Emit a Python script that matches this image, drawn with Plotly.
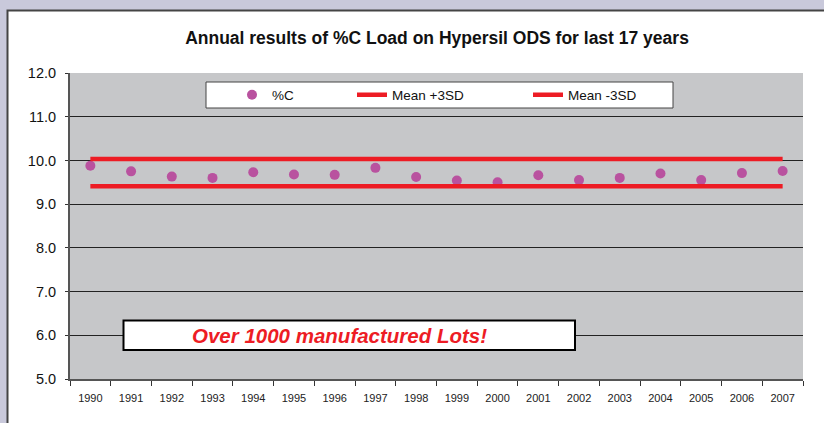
import plotly.graph_objects as go

years = ['1990', '1991', '1992', '1993', '1994', '1995', '1996', '1997', '1998',
         '1999', '2000', '2001', '2002', '2003', '2004', '2005', '2006', '2007']
pct_c = [9.88, 9.75, 9.63, 9.60, 9.73, 9.68, 9.67, 9.83, 9.62,
         9.54, 9.50, 9.66, 9.55, 9.60, 9.70, 9.55, 9.71, 9.76]
mean_plus_3sd = [10.03, 10.03, 10.03, 10.03, 10.03, 10.03, 10.03, 10.03, 10.03,
                 10.03, 10.03, 10.03, 10.03, 10.03, 10.03, 10.03, 10.03, 10.03]
mean_minus_3sd = [9.41, 9.41, 9.41, 9.41, 9.41, 9.41, 9.41, 9.41, 9.41,
                  9.41, 9.41, 9.41, 9.41, 9.41, 9.41, 9.41, 9.41, 9.41]
y_ticks = [5, 6, 7, 8, 9, 10, 11, 12]

W, H = 824, 423
L, R, T, B = 70, 21, 73, 44
PW, PH = W - L - R, H - T - B


def px_x(p):
    return (p - L) / PW


def px_y(p):
    return 1 - (p - T) / PH


FONT = "Arial, Liberation Sans, sans-serif"
RED = "#ed1c24"
PURPLE = "#b9529f"
LAV = "#c9c9db"

fig = go.Figure()
fig.add_trace(go.Scatter(x=years, y=pct_c, mode="markers", name="%C",
                         marker=dict(color=PURPLE, size=10), legend="legend",
                         showlegend=True))
fig.add_trace(go.Scatter(x=years, y=mean_plus_3sd, mode="lines", name="Mean +3SD",
                         line=dict(color=RED, width=4.5), legend="legend2",
                         showlegend=True))
fig.add_trace(go.Scatter(x=years, y=mean_minus_3sd, mode="lines", name="Mean -3SD",
                         line=dict(color=RED, width=4.5), legend="legend3",
                         showlegend=True))

legend_common = dict(orientation="h", bgcolor="rgba(0,0,0,0)", borderwidth=0,
                     font=dict(family=FONT, size=13.5, color="#111"),
                     xanchor="left", yanchor="middle", y=px_y(95))

shapes = [
    dict(type="rect", xref="paper", yref="paper", layer="below",
         x0=px_x(0), x1=px_x(7), y0=px_y(H), y1=px_y(0),
         fillcolor=LAV, line=dict(width=0)),
    dict(type="rect", xref="paper", yref="paper", layer="below",
         x0=px_x(0), x1=px_x(W), y0=px_y(10), y1=px_y(0),
         fillcolor=LAV, line=dict(width=0)),
    dict(type="path", xref="paper", yref="paper", layer="below",
         path="M %f,%f L %f,%f L %f,%f" % (px_x(7.5), px_y(H), px_x(7.5), px_y(10.5),
                                          px_x(W), px_y(10.5)),
         line=dict(color="#444", width=2)),
    # legend box
    dict(type="rect", xref="paper", yref="paper", layer="above",
         x0=px_x(206), x1=px_x(673), y0=px_y(108), y1=px_y(82),
         fillcolor="white", line=dict(color="#444", width=1)),
    # callout box
    dict(type="rect", xref="paper", yref="paper", layer="above",
         x0=px_x(123.5), x1=px_x(575), y0=px_y(350), y1=px_y(320.5),
         fillcolor="white", line=dict(color="black", width=2)),
]

fig.update_layout(
    width=W, height=H,
    margin=dict(l=L, r=R, t=T, b=B),
    paper_bgcolor="white",
    plot_bgcolor="#c6c7c9",
    showlegend=True,
    font=dict(family=FONT, color="#111"),
    title=dict(text="Annual results of %C Load on Hypersil ODS for last 17 years",
               font=dict(family=FONT, size=17.5, color="#111", weight="bold"),
               xref="paper", x=px_x(437), xanchor="center",
               yref="container", y=1 - 38 / H, yanchor="middle"),
    legend=dict(legend_common, x=px_x(232)),
    legend2=dict(legend_common, x=px_x(352)),
    legend3=dict(legend_common, x=px_x(528)),
    shapes=shapes,
    annotations=[dict(
        text="Over 1000 manufactured Lots!", xref="paper", yref="paper",
        x=px_x(339), y=px_y(335), xanchor="center", yanchor="middle",
        showarrow=False,
        font=dict(family=FONT, size=20.5, color=RED, weight="bold", style="italic"))],
    xaxis=dict(type="category", categoryorder="array", categoryarray=years,
               range=[-0.5, len(years) - 0.5],
               tickson="boundaries", ticks="outside", ticklen=5, tickwidth=1,
               tickcolor="#333", showline=True, linecolor="#555", linewidth=2,
               showgrid=False, tickfont=dict(family=FONT, size=11, color="#222"),
               ticklabelstandoff=8, fixedrange=True),
    yaxis=dict(range=[5, 12], tickvals=y_ticks, tickformat=".1f",
               ticks="outside", ticklen=3, tickcolor="#333",
               showline=True, linecolor="#555", linewidth=2,
               showgrid=True, gridcolor="#222", gridwidth=1, zeroline=False,
               tickfont=dict(family=FONT, size=14.5, color="#111"),
               ticklabelstandoff=6, fixedrange=True),
)

fig.write_html("out.html", config={"displayModeBar": False},
               post_script="document.body.style.margin='0';")
